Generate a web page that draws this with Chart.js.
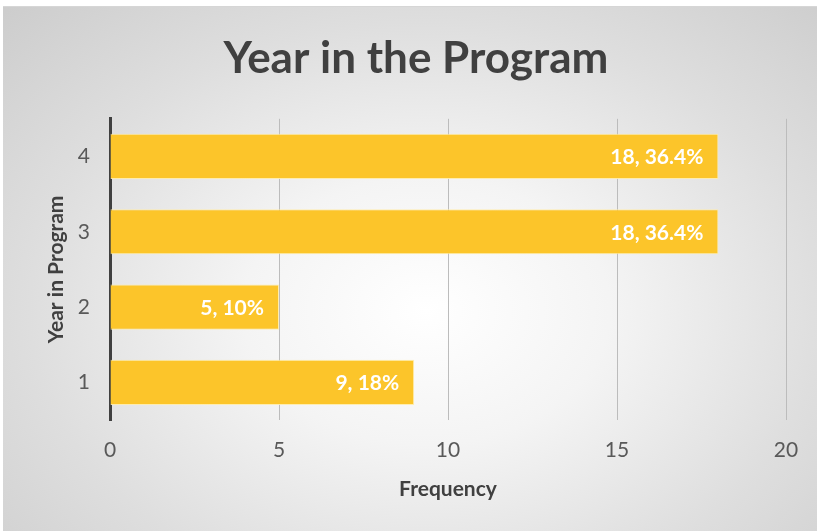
<!DOCTYPE html>
<html>
<head>
<meta charset="utf-8">
<script src="https://cdn.jsdelivr.net/npm/chart.js@4/dist/chart.umd.min.js"></script>
<style>
    body { margin: 0; background: #fff; }
    #wrap {
        position: absolute; left: 3px; top: 6px; width: 814px; height: 525px;
        background: radial-gradient(ellipse 75% 85% at 52% 58%, #ffffff 0%, #f4f4f4 30%, #dedede 65%, #cbcbcb 100%);
        border-top: 1px solid #d6d6d6;
        box-sizing: border-box;
    }
</style>
</head>
<body>
<div id="wrap"><canvas id="yearChart"></canvas></div>
<script>
// chart data
const years = ["1", "2", "3", "4"];
const counts = [9, 5, 18, 18];
const percents = ["18%", "10%", "36.4%", "36.4%"];
const xTicks = [0, 5, 10, 15, 20];

const FONT = "Lato, 'Open Sans', sans-serif";

// value labels drawn inside the end of each bar
const barLabels = {
    id: "barLabels",
    afterDatasetsDraw(chart) {
        const ctx = chart.ctx;
        const meta = chart.getDatasetMeta(0);
        ctx.save();
        ctx.font = "bold 21px " + FONT;
        ctx.fillStyle = "#ffffff";
        ctx.textAlign = "right";
        ctx.textBaseline = "middle";
        meta.data.forEach((bar, i) => {
            ctx.fillText(counts[i] + ", " + percents[i], bar.x - 15, bar.y + 1);
        });
        ctx.restore();
    }
};

var ctx = document.getElementById("yearChart").getContext("2d");

var yearChart = new Chart(ctx, {
    type: "bar",
    data: {
        labels: years,
        datasets: [{
            data: counts,
            backgroundColor: "#fcc52a",
            borderColor: "rgba(255, 236, 170, 0.9)",
            borderWidth: 1,
            categoryPercentage: 1,
            barPercentage: 0.6
        }]
    },
    options: {
        indexAxis: "y",
        responsive: true,
        maintainAspectRatio: false,
        animation: false,
        layout: {
            padding: { left: 12, right: 0, top: 0, bottom: 11 }
        },
        plugins: {
            legend: { display: false },
            tooltip: { enabled: false },
            title: {
                display: true,
                text: "Year in the Program",
                font: { family: FONT, size: 44, weight: "bold" },
                color: "#404040",
                padding: { top: 25, bottom: 34 }
            }
        },
        scales: {
            x: {
                min: 0,
                max: 20,
                afterBuildTicks(scale) {
                    scale.ticks = xTicks.map(v => ({ value: v }));
                },
                grid: { color: "#bcbcbc", lineWidth: 1, drawTicks: false },
                border: { display: false },
                ticks: {
                    color: "#595959",
                    font: { family: FONT, size: 21 },
                    padding: 18
                },
                title: {
                    display: true,
                    text: "Frequency",
                    color: "#404040",
                    font: { family: FONT, size: 21, weight: "bold" },
                    padding: { top: 0, bottom: 18 }
                },
                afterFit(scale) {
                    scale.height = 100;
                    scale.paddingRight = 31;
                }
            },
            y: {
                reverse: true,
                grid: { display: false, drawTicks: false },
                border: { display: true, color: "#404040", width: 3 },
                ticks: {
                    color: "#595959",
                    font: { family: FONT, size: 21 },
                    padding: 20
                },
                title: {
                    display: true,
                    text: "Year in Program",
                    color: "#404040",
                    font: { family: FONT, size: 21, weight: "bold" },
                    padding: { top: 29, bottom: 0 }
                },
                afterFit(scale) { scale.width = 95; }
            }
        }
    },
    plugins: [barLabels]
});
</script>
</body>
</html>
